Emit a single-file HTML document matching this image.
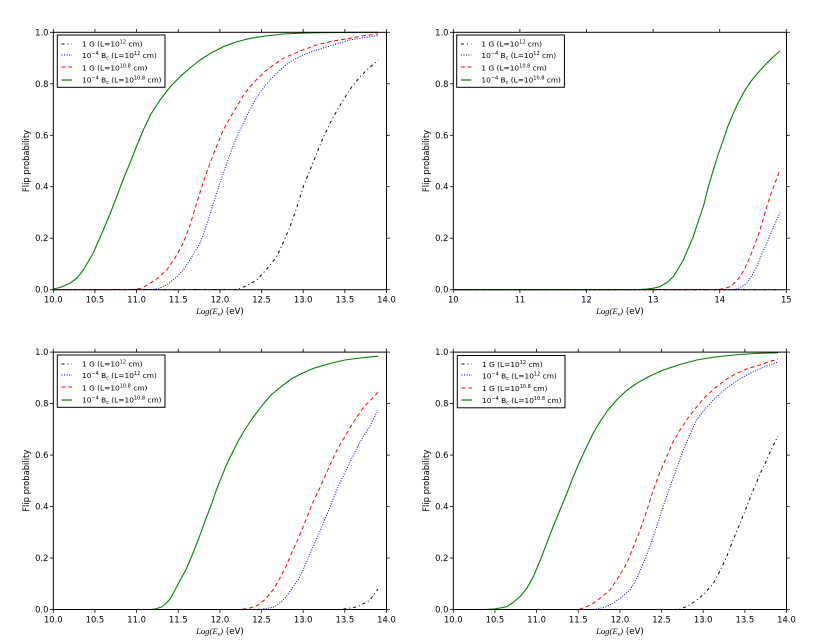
<!DOCTYPE html>
<html><head><meta charset="utf-8"><style>
html,body{margin:0;padding:0;background:#fff;}
svg{display:block;}
text{font-family:"DejaVu Sans","Liberation Sans",sans-serif;fill:#000;}
.t{font-size:8.4px;}
.lg{font-size:7.4px;}
.sup{font-size:5px;}
</style></head><body>
<svg width="830" height="643" viewBox="0 0 830 643" xmlns="http://www.w3.org/2000/svg">
<rect width="830" height="643" fill="#fff"/>
<defs>
<g id="yax">
  <g stroke="#000" stroke-width="0.8">
    <line x1="50" y1="289.7" x2="53.3" y2="289.7"/><line x1="50" y1="238.2" x2="53.3" y2="238.2"/>
    <line x1="50" y1="186.7" x2="53.3" y2="186.7"/><line x1="50" y1="135.3" x2="53.3" y2="135.3"/>
    <line x1="50" y1="83.8" x2="53.3" y2="83.8"/><line x1="50" y1="32.3" x2="53.3" y2="32.3"/>
    <line x1="386.5" y1="289.7" x2="389.8" y2="289.7"/><line x1="386.5" y1="238.2" x2="389.8" y2="238.2"/>
    <line x1="386.5" y1="186.7" x2="389.8" y2="186.7"/><line x1="386.5" y1="135.3" x2="389.8" y2="135.3"/>
    <line x1="386.5" y1="83.8" x2="389.8" y2="83.8"/><line x1="386.5" y1="32.3" x2="389.8" y2="32.3"/>
  </g>
  <g class="t" text-anchor="end">
    <text x="48.5" y="292.7">0.0</text><text x="48.5" y="241.2">0.2</text>
    <text x="48.5" y="189.7">0.4</text><text x="48.5" y="138.3">0.6</text>
    <text x="48.5" y="86.8">0.8</text><text x="48.5" y="35.3">1.0</text>
  </g>
  <text class="t" transform="translate(29,161) rotate(-90)" text-anchor="middle">Flip probability</text>
  <text x="219.9" y="314" text-anchor="middle" style="font-size:8.6px"><tspan style="font-family:'Liberation Serif',serif;font-style:italic">Log(E</tspan><tspan style="font-family:'Liberation Serif',serif;font-style:italic;font-size:6px" dy="2">ν</tspan><tspan style="font-family:'Liberation Serif',serif;font-style:italic" dy="-2">)</tspan> (eV)</text>
</g>
<g id="xt9">
  <g stroke="#000" stroke-width="0.8">
    <line x1="53.3" y1="289.7" x2="53.3" y2="293"/><line x1="94.95" y1="289.7" x2="94.95" y2="293"/>
    <line x1="136.6" y1="289.7" x2="136.6" y2="293"/><line x1="178.25" y1="289.7" x2="178.25" y2="293"/>
    <line x1="219.9" y1="289.7" x2="219.9" y2="293"/><line x1="261.55" y1="289.7" x2="261.55" y2="293"/>
    <line x1="303.2" y1="289.7" x2="303.2" y2="293"/><line x1="344.85" y1="289.7" x2="344.85" y2="293"/>
    <line x1="386.5" y1="289.7" x2="386.5" y2="293"/>
    <line x1="53.3" y1="32.3" x2="53.3" y2="29"/><line x1="94.95" y1="32.3" x2="94.95" y2="29"/>
    <line x1="136.6" y1="32.3" x2="136.6" y2="29"/><line x1="178.25" y1="32.3" x2="178.25" y2="29"/>
    <line x1="219.9" y1="32.3" x2="219.9" y2="29"/><line x1="261.55" y1="32.3" x2="261.55" y2="29"/>
    <line x1="303.2" y1="32.3" x2="303.2" y2="29"/><line x1="344.85" y1="32.3" x2="344.85" y2="29"/>
    <line x1="386.5" y1="32.3" x2="386.5" y2="29"/>
  </g>
  <g class="t" text-anchor="middle">
    <text x="53.3" y="302.5">10.0</text><text x="94.95" y="302.5">10.5</text>
    <text x="136.6" y="302.5">11.0</text><text x="178.25" y="302.5">11.5</text>
    <text x="219.9" y="302.5">12.0</text><text x="261.55" y="302.5">12.5</text>
    <text x="303.2" y="302.5">13.0</text><text x="344.85" y="302.5">13.5</text>
    <text x="386.5" y="302.5">14.0</text>
  </g>
</g>
<g id="xt6">
  <g stroke="#000" stroke-width="0.8">
    <line x1="53.3" y1="289.7" x2="53.3" y2="293"/><line x1="119.9" y1="289.7" x2="119.9" y2="293"/>
    <line x1="186.5" y1="289.7" x2="186.5" y2="293"/><line x1="253.1" y1="289.7" x2="253.1" y2="293"/>
    <line x1="319.7" y1="289.7" x2="319.7" y2="293"/><line x1="386.3" y1="289.7" x2="386.3" y2="293"/>
    <line x1="53.3" y1="32.3" x2="53.3" y2="29"/><line x1="119.9" y1="32.3" x2="119.9" y2="29"/>
    <line x1="186.5" y1="32.3" x2="186.5" y2="29"/><line x1="253.1" y1="32.3" x2="253.1" y2="29"/>
    <line x1="319.7" y1="32.3" x2="319.7" y2="29"/><line x1="386.3" y1="32.3" x2="386.3" y2="29"/>
  </g>
  <g class="t" text-anchor="middle">
    <text x="53.3" y="302.5">10</text><text x="119.9" y="302.5">11</text>
    <text x="186.5" y="302.5">12</text><text x="253.1" y="302.5">13</text>
    <text x="319.7" y="302.5">14</text><text x="386.3" y="302.5">15</text>
  </g>
</g>
</defs>

<use href="#yax"/><use href="#xt9"/>
<use href="#yax" transform="translate(400,0)"/><use href="#xt6" transform="translate(400,0)"/>
<use href="#yax" transform="translate(0,319.8)"/><use href="#xt9" transform="translate(0,319.8)"/>
<use href="#yax" transform="translate(400,319.8)"/><use href="#xt9" transform="translate(400,319.8)"/>

<g fill="none" stroke-linejoin="round">
<!-- TOP LEFT -->
<polyline stroke="#000000" stroke-width="1" stroke-dasharray="3,3,1,3" points="53.3,289.7 236.7,289.5 246,286 256.7,280 266,270 276.7,256.7 283,243 290,226.7 297,207 303.3,186.7 310,170 316.7,153.3 323,138 330,123.3 336.7,111 343.3,100 351,88 360,76.7 369,68 378.3,60"/>
<polyline stroke="#0000ff" stroke-width="1" stroke-dasharray="1,1.5" points="53.3,289.7 153.3,289.5 160,288 166.7,285 175,278.5 183.3,270 191,258 200,243.3 207,224 213.3,203.3 220,183 226.7,163.3 233,146 240,130 246.7,116 253.3,103.3 261,91 270,80 280,70 290,61.7 303,55 316.7,50 333,45 350,40 365,37.5 378,35.5"/>
<polyline stroke="#ff0000" stroke-width="1" stroke-dasharray="4,3" points="53.3,289.7 135,289.5 142,288 150,283.3 158,278 166.7,270 175,258 183.3,243 190,225 196.7,203 203,183 210,163 216.7,146 223.3,130 230,118 236.7,106.7 243,96 250,86.7 258,78 266.7,70 275,64 283.3,58.3 300,51 316.7,45 333,41 350,38.3 365,35.5 378,34"/>
<polyline stroke="#008000" stroke-width="1.1" points="53.3,289 60,287.5 70,283.3 77,278 83.3,270 88,262 93.3,253 98,242 103.3,230 110,214 116.7,196.7 123,180 130,163 136.7,146 143.3,130 151,114 160,100 170,87 180,76.7 190,68 200,60 211,53 223.3,46.7 236,42 250,38.3 266,36 283.3,34 300,33.2 316.7,32.7 350,32.4 378,32.3"/>

<!-- TOP RIGHT -->
<polyline stroke="#000000" stroke-width="1" stroke-dasharray="3,3,1,3" points="453.3,289.7 780,289.7"/>
<polyline stroke="#0000ff" stroke-width="1" stroke-dasharray="1,1.5" points="453.3,289.7 733,289.5 736.7,289 741,287 746.7,283.3 751,277 756.7,266.7 761,256 766.7,243.3 773,228 780,212.7"/>
<polyline stroke="#ff0000" stroke-width="1" stroke-dasharray="4,3" points="453.3,289.7 716,289.5 721.7,289 726,288 730,286.7 735,282.5 740,276.7 745,268 750,256.7 755,244 760,230 765,213 770,196.7 775,183 780,170"/>
<polyline stroke="#008000" stroke-width="1.1" points="453.3,289.7 640,289.5 646.7,289 653,288.3 660,286.7 667,282.5 673.3,276.7 678,269 683.3,260 688,249 693.3,236.7 698,222 703.3,206.7 708,188 713.3,170 718,155 723.3,140 728,126 733.3,113.3 738,103 743.3,93.3 748,85.5 753.3,78.3 760,70.5 766.7,63.3 773,57 780,51"/>

<!-- BOTTOM LEFT -->
<polyline stroke="#000000" stroke-width="1" stroke-dasharray="3,3,1,3" points="53.3,609.5 340.8,609.5 357.1,606.9 369.6,600.5 378,589"/>
<polyline stroke="#0000ff" stroke-width="1" stroke-dasharray="1,1.5" points="53.3,609.5 257,609.5 265,608.8 273.8,607 280,603 286.3,596.6 292,588.5 298.8,578.6 303,570 307.1,560.6 313,547 319.6,532.3 326,517 332.1,501.5 338,487 344.6,473.2 351,460 357.1,447.5 363,437 369.6,426.9 378,410"/>
<polyline stroke="#ff0000" stroke-width="1" stroke-dasharray="4,3" points="53.3,609.5 240,609.5 249,608.3 257.2,605.6 265.5,599.2 273.8,588.9 280,578 286.3,565.8 292,552 298.8,537.5 303,527 307.1,516.9 313,502 319.6,488.6 326,474 332.1,460.3 338,448 344.6,437.2 351,426 357.1,416.6 363,408 369.6,401.2 378,392"/>
<polyline stroke="#008000" stroke-width="1.1" points="53.3,609.5 150,609.5 155,609 161.6,607 166,603.5 170,599 174,592 178.3,583.8 182.5,576 186.6,568.4 193,553 199.1,537.5 205,521 211.6,504 216,491 219.9,480.9 226,466 232.4,452.6 238.5,440.5 244.9,429.5 253,417.5 261.5,406.3 271,395 282.3,385.7 292,378.5 303.1,372.9 313,368.5 324,365.2 334,362.5 344.8,360 360,358 378,356.2"/>

<!-- BOTTOM RIGHT -->
<polyline stroke="#000000" stroke-width="1" stroke-dasharray="3,3,1,3" points="453.3,609.5 675,609.5 680,609 688,606 696.7,600 705,593 713.3,583.3 720,571 726.7,556.7 733,540 740,523.3 747,506 753.3,490 760,474 766.7,460 772,448 778,436"/>
<polyline stroke="#0000ff" stroke-width="1" stroke-dasharray="1,1.5" points="453.3,609.5 592,609.5 596.7,609 605,607 613.3,603.3 621,597.5 630,590 637,578 643.3,563.3 650,546 656.7,526.7 663,507 670,486.7 677,468 683.3,450 690,434 696.7,420 705,409 713.3,400 723,391 733.3,383.3 743,377 753.3,371.7 764,367 778,362"/>
<polyline stroke="#ff0000" stroke-width="1" stroke-dasharray="4,3" points="453.3,609.5 575,609.5 580,609 586,607 593.3,603.3 601,597.5 610,590 618,578 626.7,563.3 633,548 640,530 647,510 653.3,490 660,472 666.7,456.7 673,442 680,430 688,418 696.7,406.7 706,396 716.7,386.7 726,379.5 736.7,373.3 748,368.5 760,365 768,362 778,359"/>
<polyline stroke="#008000" stroke-width="1.1" points="453.3,609.5 485,609.5 493.3,609 500,608 506.7,606.7 513,602.5 520,596.7 527,588 533.3,576.7 540,561 546.7,543.3 553,527 560,510 567,493 573.3,476.7 580,461 586.7,446.7 593,433.5 600,421.7 608,410 616.7,400 626,391 636.7,383.3 650,376 663.3,370 680,364.5 696.7,360 715,357 733.3,355 755,353.5 778,352.7"/>
</g>

<!-- Frames -->
<rect x="53.3" y="32.3" width="333.2" height="257.4" fill="none" stroke="#000" stroke-width="1"/>
<rect x="453.3" y="32.3" width="333.2" height="257.4" fill="none" stroke="#000" stroke-width="1"/>
<rect x="53.3" y="352.1" width="333.2" height="257.4" fill="none" stroke="#000" stroke-width="1"/>
<rect x="453.3" y="352.1" width="333.2" height="257.4" fill="none" stroke="#000" stroke-width="1"/>

<!-- Legend TL -->
<g>
  <rect x="57.3" y="35" width="107.7" height="52.3" fill="#fff" stroke="#000" stroke-width="1"/>
  <line x1="61.5" y1="44" x2="72" y2="44" stroke="#000000" stroke-width="1" stroke-dasharray="3,3,1,3"/>
  <line x1="61.5" y1="55" x2="72" y2="55" stroke="#0000ff" stroke-width="1" stroke-dasharray="1,1.5"/>
  <line x1="61.5" y1="67" x2="72" y2="67" stroke="#ff0000" stroke-width="1" stroke-dasharray="4,3"/>
  <line x1="61.5" y1="80" x2="72" y2="80" stroke="#008000" stroke-width="1.2"/>
  <text class="lg" x="82" y="46.3">1 G (L=10<tspan class="sup" dy="-3">12</tspan><tspan dy="3"> cm)</tspan></text>
  <text class="lg" x="82" y="57.8">10<tspan class="sup" dy="-3">−4</tspan><tspan dy="3"> B</tspan><tspan class="sup" dy="1.5">c</tspan><tspan dy="-1.5"> (L=10</tspan><tspan class="sup" dy="-3">12</tspan><tspan dy="3"> cm)</tspan></text>
  <text class="lg" x="82" y="70.3">1 G (L=10<tspan class="sup" dy="-3">10.8</tspan><tspan dy="3"> cm)</tspan></text>
  <text class="lg" x="82" y="82.3">10<tspan class="sup" dy="-3">−4</tspan><tspan dy="3"> B</tspan><tspan class="sup" dy="1.5">c</tspan><tspan dy="-1.5"> (L=10</tspan><tspan class="sup" dy="-3">10.8</tspan><tspan dy="3"> cm)</tspan></text>
</g>
<!-- Legend TR -->
<g transform="translate(399.4,0)">
  <rect x="57.3" y="35" width="107.7" height="52.3" fill="#fff" stroke="#000" stroke-width="1"/>
  <line x1="61.5" y1="44" x2="72" y2="44" stroke="#000000" stroke-width="1" stroke-dasharray="3,3,1,3"/>
  <line x1="61.5" y1="55" x2="72" y2="55" stroke="#0000ff" stroke-width="1" stroke-dasharray="1,1.5"/>
  <line x1="61.5" y1="67" x2="72" y2="67" stroke="#ff0000" stroke-width="1" stroke-dasharray="4,3"/>
  <line x1="61.5" y1="80" x2="72" y2="80" stroke="#008000" stroke-width="1.2"/>
  <text class="lg" x="82" y="46.3">1 G (L=10<tspan class="sup" dy="-3">12</tspan><tspan dy="3"> cm)</tspan></text>
  <text class="lg" x="82" y="57.8">10<tspan class="sup" dy="-3">−4</tspan><tspan dy="3"> B</tspan><tspan class="sup" dy="1.5">c</tspan><tspan dy="-1.5"> (L=10</tspan><tspan class="sup" dy="-3">12</tspan><tspan dy="3"> cm)</tspan></text>
  <text class="lg" x="82" y="70.3">1 G (L=10<tspan class="sup" dy="-3">10.8</tspan><tspan dy="3"> cm)</tspan></text>
  <text class="lg" x="82" y="82.3">10<tspan class="sup" dy="-3">−4</tspan><tspan dy="3"> B</tspan><tspan class="sup" dy="1.5">c</tspan><tspan dy="-1.5"> (L=10</tspan><tspan class="sup" dy="-3">10.8</tspan><tspan dy="3"> cm)</tspan></text>
</g>
<!-- Legend BL -->
<g transform="translate(0,320)">
  <rect x="57.3" y="35" width="107.7" height="52.3" fill="#fff" stroke="#000" stroke-width="1"/>
  <line x1="61.5" y1="44" x2="72" y2="44" stroke="#000000" stroke-width="1" stroke-dasharray="3,3,1,3"/>
  <line x1="61.5" y1="55" x2="72" y2="55" stroke="#0000ff" stroke-width="1" stroke-dasharray="1,1.5"/>
  <line x1="61.5" y1="67" x2="72" y2="67" stroke="#ff0000" stroke-width="1" stroke-dasharray="4,3"/>
  <line x1="61.5" y1="80" x2="72" y2="80" stroke="#008000" stroke-width="1.2"/>
  <text class="lg" x="82" y="46.3">1 G (L=10<tspan class="sup" dy="-3">12</tspan><tspan dy="3"> cm)</tspan></text>
  <text class="lg" x="82" y="57.8">10<tspan class="sup" dy="-3">−4</tspan><tspan dy="3"> B</tspan><tspan class="sup" dy="1.5">c</tspan><tspan dy="-1.5"> (L=10</tspan><tspan class="sup" dy="-3">12</tspan><tspan dy="3"> cm)</tspan></text>
  <text class="lg" x="82" y="70.3">1 G (L=10<tspan class="sup" dy="-3">10.8</tspan><tspan dy="3"> cm)</tspan></text>
  <text class="lg" x="82" y="82.3">10<tspan class="sup" dy="-3">−4</tspan><tspan dy="3"> B</tspan><tspan class="sup" dy="1.5">c</tspan><tspan dy="-1.5"> (L=10</tspan><tspan class="sup" dy="-3">10.8</tspan><tspan dy="3"> cm)</tspan></text>
</g>
<!-- Legend BR -->
<g transform="translate(400,320)">
  <rect x="57.3" y="35.5" width="107.7" height="52.3" fill="#fff" stroke="#000" stroke-width="1"/>
  <line x1="61.5" y1="44" x2="72" y2="44" stroke="#000000" stroke-width="1" stroke-dasharray="3,3,1,3"/>
  <line x1="61.5" y1="55" x2="72" y2="55" stroke="#0000ff" stroke-width="1" stroke-dasharray="1,1.5"/>
  <line x1="61.5" y1="68" x2="72" y2="68" stroke="#ff0000" stroke-width="1" stroke-dasharray="4,3"/>
  <line x1="61.5" y1="80" x2="72" y2="80" stroke="#008000" stroke-width="1.2"/>
  <text class="lg" x="82" y="46.8">1 G (L=10<tspan class="sup" dy="-3">12</tspan><tspan dy="3"> cm)</tspan></text>
  <text class="lg" x="82" y="58.3">10<tspan class="sup" dy="-3">−4</tspan><tspan dy="3"> B</tspan><tspan class="sup" dy="1.5">c</tspan><tspan dy="-1.5"> (L=10</tspan><tspan class="sup" dy="-3">12</tspan><tspan dy="3"> cm)</tspan></text>
  <text class="lg" x="82" y="70.8">1 G (L=10<tspan class="sup" dy="-3">10.8</tspan><tspan dy="3"> cm)</tspan></text>
  <text class="lg" x="82" y="82.8">10<tspan class="sup" dy="-3">−4</tspan><tspan dy="3"> B</tspan><tspan class="sup" dy="1.5">c</tspan><tspan dy="-1.5"> (L=10</tspan><tspan class="sup" dy="-3">10.8</tspan><tspan dy="3"> cm)</tspan></text>
</g>
</svg>
</body></html>
